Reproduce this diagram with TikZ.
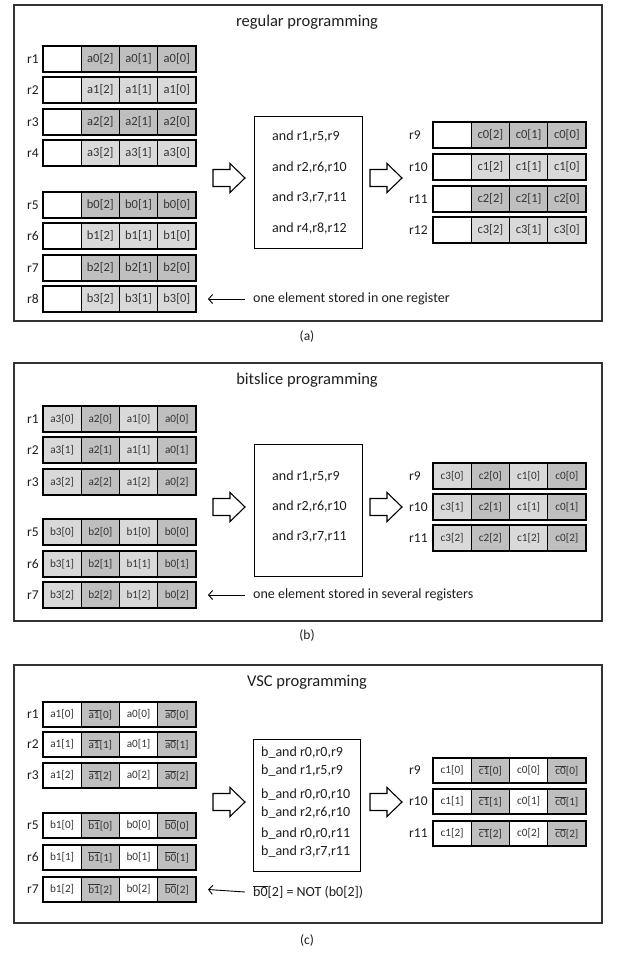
\documentclass[tikz,border=0pt]{standalone}
\usepackage{fontspec}
\setmainfont{Carlito}
\usetikzlibrary{fit,shadows,arrows.meta}

\definecolor{cdark}{HTML}{BFBFBF}
\definecolor{clight}{HTML}{D9D9D9}
\definecolor{ink}{HTML}{1E1E1E}
\definecolor{celltext}{HTML}{333333}

% complemented value, e.g. \ovl{a1}[0]
\newcommand\ovl[1]{\(\overline{\mbox{#1}}\)}
% size of the text inside register cells
\newcommand\cellsize{11}

\tikzset{
  panel/.style={draw=black!80, line width=1.6pt, fill=white, anchor=north west, inner sep=0pt,
    drop shadow={shadow xshift=1.6pt, shadow yshift=-1.6pt, fill=black!50, opacity=0.6}},
  cell/.style={draw=black, line width=1.1pt, minimum width=38.25pt, minimum height=#1,
    inner sep=0pt, outer sep=0pt, anchor=north west,
    font=\fontsize{\cellsize}{14}\selectfont, text=celltext},
  cell/.default=26pt,
  regframe/.style={draw=black, line width=2pt, inner sep=0pt},
  reglabel/.style={font=\fontsize{13.5}{15}\selectfont, text=ink, inner sep=0pt, anchor=west},
  opbox/.style={draw=black, line width=1.1pt, fill=white, anchor=north west, inner sep=0pt},
  optext/.style={font=\fontsize{14}{16}\selectfont, text=ink, inner sep=0pt, anchor=west},
  paneltitle/.style={font=\fontsize{16.5}{18}\selectfont, text=ink, inner sep=0pt},
  caption/.style={font=\fontsize{13.5}{15}\selectfont, text=ink, inner sep=0pt},
  note/.style={font=\fontsize{14}{16}\selectfont, text=ink, inner sep=0pt, anchor=west},
  pointer/.style={draw=black, line width=0.9pt, -{Straight Barb[length=4pt,width=9pt]}},
  blockarrow/.style={draw=black, line width=1.1pt, fill=white, line join=miter},
}

% a register: name, left x, top y, height, list of fill/text cells
\newcommand\regrow[5]{%
  \foreach [count=\i] \f/\t in {#5} {
    \node[cell=#4, fill=\f] (#1-\i) at ({#2+(\i-1)*38.25}, #3) {\t};
  }
  \node[regframe, fit=(#1-1)(#1-4)] (#1) {};
}

% hollow block arrow: left x, centre y
\newcommand\hollowarrow[2]{%
  \draw[blockarrow] (#1,#2-8.5) -- ++(17,0) -- ++(0,-6) -- (#1+32,#2)
    -- (#1+17,#2+14.5) -- ++(0,-6) -- (#1,#2+8.5) -- cycle;
}

\begin{document}
\begin{tikzpicture}[x=1pt, y=-1pt]
\useasboundingbox (0,0) rectangle (618,953);

% ---------------- (a) regular programming ----------------
\renewcommand\cellsize{12.5}
\node[panel, minimum width=588pt, minimum height=316pt] (pa) at (13,4) {};
\node[paneltitle] (ta) at (307,22) {regular programming};

\regrow{ra1}{43}{46}{26pt}{white/{}, cdark/a0[2], cdark/a0[1], cdark/a0[0]}
\regrow{ra2}{43}{77}{26pt}{white/{}, clight/a1[2], clight/a1[1], clight/a1[0]}
\regrow{ra3}{43}{109}{26pt}{white/{}, cdark/a2[2], cdark/a2[1], cdark/a2[0]}
\regrow{ra4}{43}{140}{26pt}{white/{}, clight/a3[2], clight/a3[1], clight/a3[0]}
\regrow{ra5}{43}{192}{26pt}{white/{}, cdark/b0[2], cdark/b0[1], cdark/b0[0]}
\regrow{ra6}{43}{223}{26pt}{white/{}, clight/b1[2], clight/b1[1], clight/b1[0]}
\regrow{ra7}{43}{255}{26pt}{white/{}, cdark/b2[2], cdark/b2[1], cdark/b2[0]}
\regrow{ra8}{43}{286}{26pt}{white/{}, clight/b3[2], clight/b3[1], clight/b3[0]}
\node[reglabel] (la1) at (27,59) {r1};
\node[reglabel] (la2) at (27,90) {r2};
\node[reglabel] (la3) at (27,122) {r3};
\node[reglabel] (la4) at (27,153) {r4};
\node[reglabel] (la5) at (27,205) {r5};
\node[reglabel] (la6) at (27,236) {r6};
\node[reglabel] (la7) at (27,268) {r7};
\node[reglabel] (la8) at (27,299) {r8};

\hollowarrow{213}{178}
\node[opbox, minimum width=108pt, minimum height=132pt] (opa) at (254,116) {};
\node[optext] (opa1) at (272,137) {and r1,r5,r9};
\node[optext] (opa2) at (272,168) {and r2,r6,r10};
\node[optext] (opa3) at (272,198) {and r3,r7,r11};
\node[optext] (opa4) at (272,229) {and r4,r8,r12};
\hollowarrow{370}{178}

\regrow{ra9}{433}{122}{26pt}{white/{}, cdark/c0[2], cdark/c0[1], cdark/c0[0]}
\regrow{ra10}{433}{154}{26pt}{white/{}, clight/c1[2], clight/c1[1], clight/c1[0]}
\regrow{ra11}{433}{186}{26pt}{white/{}, cdark/c2[2], cdark/c2[1], cdark/c2[0]}
\regrow{ra12}{433}{217}{26pt}{white/{}, clight/c3[2], clight/c3[1], clight/c3[0]}
\node[reglabel] (la9) at (409,135) {r9};
\node[reglabel] (la10) at (409,167) {r10};
\node[reglabel] (la11) at (409,199) {r11};
\node[reglabel] (la12) at (409,230) {r12};

\node[note] (na) at (253,299) {one element stored in one register};
\draw[pointer] ([xshift=-8pt]na.west) -- ([xshift=11pt]ra8.east);
\node[caption] (ca) at (307,336) {(a)};

% ---------------- (b) bitslice programming ----------------
\renewcommand\cellsize{11.2}
\node[panel, minimum width=588pt, minimum height=258pt] (pb) at (13,362) {};
\node[paneltitle] (tb) at (307,380) {bitslice programming};

\regrow{rb1}{43}{406}{26pt}{clight/a3[0], cdark/a2[0], clight/a1[0], cdark/a0[0]}
\regrow{rb2}{43}{437}{26pt}{clight/a3[1], cdark/a2[1], clight/a1[1], cdark/a0[1]}
\regrow{rb3}{43}{469}{26pt}{clight/a3[2], cdark/a2[2], clight/a1[2], cdark/a0[2]}
\regrow{rb5}{43}{519}{26pt}{clight/b3[0], cdark/b2[0], clight/b1[0], cdark/b0[0]}
\regrow{rb6}{43}{551}{26pt}{clight/b3[1], cdark/b2[1], clight/b1[1], cdark/b0[1]}
\regrow{rb7}{43}{582}{26pt}{clight/b3[2], cdark/b2[2], clight/b1[2], cdark/b0[2]}
\node[reglabel] (lb1) at (27,419) {r1};
\node[reglabel] (lb2) at (27,450) {r2};
\node[reglabel] (lb3) at (27,482) {r3};
\node[reglabel] (lb5) at (27,532) {r5};
\node[reglabel] (lb6) at (27,564) {r6};
\node[reglabel] (lb7) at (27,595) {r7};

\hollowarrow{213}{507}
\node[opbox, minimum width=108pt, minimum height=132pt] (opb) at (254,444) {};
\node[optext] (opb1) at (272,477) {and r1,r5,r9};
\node[optext] (opb2) at (272,507) {and r2,r6,r10};
\node[optext] (opb3) at (272,537) {and r3,r7,r11};
\hollowarrow{370}{507}

\regrow{rb9}{433}{463}{26pt}{clight/c3[0], cdark/c2[0], clight/c1[0], cdark/c0[0]}
\regrow{rb10}{433}{494}{26pt}{clight/c3[1], cdark/c2[1], clight/c1[1], cdark/c0[1]}
\regrow{rb11}{433}{525}{26pt}{clight/c3[2], cdark/c2[2], clight/c1[2], cdark/c0[2]}
\node[reglabel] (lb9) at (409,476) {r9};
\node[reglabel] (lb10) at (409,507) {r10};
\node[reglabel] (lb11) at (409,538) {r11};

\node[note] (nb) at (253,595) {one element stored in several registers};
\draw[pointer] ([xshift=-8pt]nb.west) -- ([xshift=11pt]rb7.east);
\node[caption] (cb) at (307,635) {(b)};

% ---------------- (c) VSC programming ----------------
\renewcommand\cellsize{11.2}
\node[panel, minimum width=588pt, minimum height=258pt] (pc) at (13,664) {};
\node[paneltitle] (tc) at (307,682) {VSC programming};

\regrow{rc1}{43}{702}{25pt}{white/a1[0], cdark/\ovl{a1}[0], white/a0[0], cdark/\ovl{a0}[0]}
\regrow{rc2}{43}{732}{25pt}{white/a1[1], cdark/\ovl{a1}[1], white/a0[1], cdark/\ovl{a0}[1]}
\regrow{rc3}{43}{763}{25pt}{white/a1[2], cdark/\ovl{a1}[2], white/a0[2], cdark/\ovl{a0}[2]}
\regrow{rc5}{43}{813}{25pt}{white/b1[0], cdark/\ovl{b1}[0], white/b0[0], cdark/\ovl{b0}[0]}
\regrow{rc6}{43}{845}{25pt}{white/b1[1], cdark/\ovl{b1}[1], white/b0[1], cdark/\ovl{b0}[1]}
\regrow{rc7}{43}{877}{25pt}{white/b1[2], cdark/\ovl{b1}[2], white/b0[2], cdark/\ovl{b0}[2]}
\node[reglabel] (lc1) at (27,714) {r1};
\node[reglabel] (lc2) at (27,744) {r2};
\node[reglabel] (lc3) at (27,775) {r3};
\node[reglabel] (lc5) at (27,825) {r5};
\node[reglabel] (lc6) at (27,857) {r6};
\node[reglabel] (lc7) at (27,889) {r7};

\hollowarrow{213}{802}
\node[opbox, minimum width=107pt, minimum height=132pt] (opc) at (253,739) {};
\node[optext] (opc1) at (261,753) {b\_and r0,r0,r9};
\node[optext] (opc2) at (261,771) {b\_and r1,r5,r9};
\node[optext] (opc3) at (261,795) {b\_and r0,r0,r10};
\node[optext] (opc4) at (261,813) {b\_and r2,r6,r10};
\node[optext] (opc5) at (261,834) {b\_and r0,r0,r11};
\node[optext] (opc6) at (261,852) {b\_and r3,r7,r11};
\hollowarrow{370}{802}

\regrow{rc9}{433}{758}{25pt}{white/c1[0], cdark/\ovl{c1}[0], white/c0[0], cdark/\ovl{c0}[0]}
\regrow{rc10}{433}{789}{25pt}{white/c1[1], cdark/\ovl{c1}[1], white/c0[1], cdark/\ovl{c0}[1]}
\regrow{rc11}{433}{821}{25pt}{white/c1[2], cdark/\ovl{c1}[2], white/c0[2], cdark/\ovl{c0}[2]}
\node[reglabel] (lc9) at (409,770) {r9};
\node[reglabel] (lc10) at (409,801) {r10};
\node[reglabel] (lc11) at (409,833) {r11};

\node[note] (nc) at (253,892) {\ovl{b0}[2] = NOT (b0[2])};
\draw[pointer] ([xshift=-8pt]nc.west) -- ([xshift=11pt]rc7.east);
\node[caption] (cc) at (307,940) {(c)};
\end{tikzpicture}
\end{document}
